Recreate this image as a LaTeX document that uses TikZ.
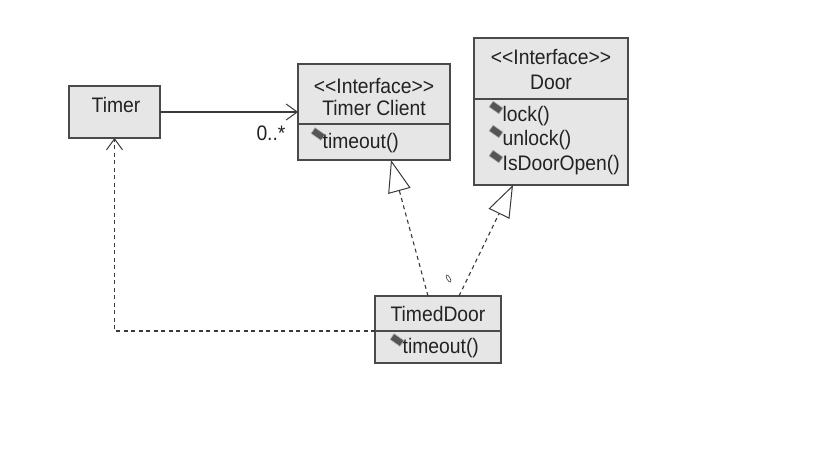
\documentclass[tikz,border=0pt]{standalone}
\usepackage{fontspec}
\newfontfamily\umlfont{Liberation Sans}[FakeStretch=0.92]
\usetikzlibrary{arrows.meta,shapes.geometric}
\definecolor{boxfill}{HTML}{E6E6E6}
\definecolor{boxline}{HTML}{4A4A4A}
\definecolor{txt}{HTML}{222222}
\definecolor{lin}{HTML}{3A3A3A}
\definecolor{gem}{HTML}{555555}
\begin{document}
\begin{tikzpicture}[x=1pt,y=-1pt,
  cbox/.style={draw=boxline,fill=boxfill,line width=1.1pt,inner sep=0pt,outer sep=0pt,rectangle},
  lbl/.style={anchor=base,inner sep=0pt,text=txt,font=\umlfont\fontsize{21}{24}\selectfont},
  mlbl/.style={anchor=base west,inner sep=0pt,text=txt,font=\umlfont\fontsize{21}{24}\selectfont},
  gemnode/.style={rectangle,fill=gem,draw=gem!45!white,line width=0.6pt,inner sep=0pt,minimum width=12pt,minimum height=7pt,rotate=-35},
  conn/.style={draw=lin,line width=1.1pt},
  dsh/.style={conn,dash pattern=on 4pt off 3.5pt},
  assocarrow/.style={-{Straight Barb[length=11pt,width=16pt,line width=1pt]}},
  realize/.style={-{Triangle[open,length=32pt,width=23pt,line width=1pt,fill=white]}}
]
\useasboundingbox (0,0) rectangle (828,452);
\fill[white] (0,0) rectangle (828,452);

% Timer
\node[cbox,minimum width=91pt,minimum height=52pt] (timer) at (114.5,112) {};
\node[lbl] (timertxt) at (116,112.5) {Timer};

% Timer Client
\node[cbox,minimum width=152pt,minimum height=60pt] (tchead) at (374,94) {};
\node[cbox,minimum width=152pt,minimum height=36pt] (tcbody) at (374,142) {};
\node[lbl] (tcst) at (374,93) {<<Interface>>};
\node[lbl] (tcname) at (374,115) {Timer Client};
\node[gemnode] (tcg) at (318,134) {};
\node[mlbl] (tcm) at (322.5,148) {timeout()};

% Door
\node[cbox,minimum width=154pt,minimum height=61pt] (doorhead) at (551,68.5) {};
\node[cbox,minimum width=154pt,minimum height=86pt] (doorbody) at (551,142) {};
\node[lbl] (doorst) at (551,65) {<<Interface>>};
\node[lbl] (doorname) at (551,90) {Door};
\node[gemnode] (dg1) at (496,107.5) {};
\node[mlbl] (dm1) at (502.5,121.5) {lock()};
\node[gemnode] (dg2) at (496,131.5) {};
\node[mlbl] (dm2) at (502.5,145) {unlock()};
\node[gemnode] (dg3) at (496,156.5) {};
\node[mlbl] (dm3) at (502.5,170) {IsDoorOpen()};

% TimedDoor
\node[cbox,minimum width=126pt,minimum height=35pt] (tdhead) at (438,313.5) {};
\node[cbox,minimum width=126pt,minimum height=32pt] (tdbody) at (438,347) {};
\node[lbl] (tdname) at (438,321.5) {TimedDoor};
\node[gemnode] (tdg) at (397,340) {};
\node[mlbl] (tdm) at (402.5,353) {timeout()};

% association Timer -> Timer Client
\draw[conn,assocarrow] (timer.east) -- (timer.east -| tchead.west);
\node[lbl] (mult) at (271,140) {0..*};

% realizations
\draw[dsh,realize] ([xshift=-10pt]tdhead.north) -- ([xshift=17pt]tcbody.south);
\draw[dsh,realize] ([xshift=21pt]tdhead.north) -- ([xshift=-38pt]doorbody.south);

% small mark
\draw[lin,line width=0.6pt,rotate around={-60:(448.5,278.5)}] (448.5,278.5) ellipse (4pt and 1.6pt);

% dependency TimedDoor -> Timer
\coordinate (bend) at (timer.south |- tdbody.north west);
\draw[dsh,assocarrow] (tdbody.north west) -- (bend) -- (timer.south);
\end{tikzpicture}
\end{document}
